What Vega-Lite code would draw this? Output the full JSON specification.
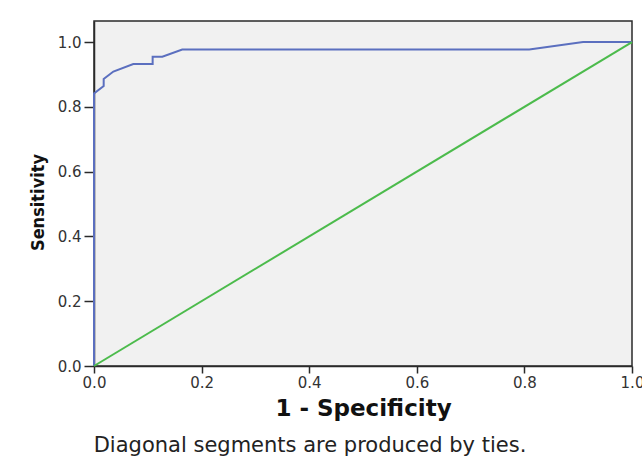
{
  "$schema": "https://vega.github.io/schema/vega-lite/v6.json",
  "width": 538,
  "height": 345,
  "autosize": {"type": "none"},
  "padding": {"left": 94, "top": 21, "right": 10, "bottom": 99},
  "background": "white",
  "title": {
    "text": "Diagonal segments are produced by ties.",
    "orient": "bottom",
    "anchor": "middle",
    "font": "DejaVu Sans",
    "fontSize": 21,
    "fontWeight": "normal",
    "color": "#222",
    "offset": 15,
    "dx": -53
  },
  "data": {
    "values": [
      {"series": "Curve", "i": 0, "fpr": 0.0, "tpr": 0.0},
      {"series": "Curve", "i": 1, "fpr": 0.0, "tpr": 0.841},
      {"series": "Curve", "i": 2, "fpr": 0.018, "tpr": 0.864},
      {"series": "Curve", "i": 3, "fpr": 0.018, "tpr": 0.886},
      {"series": "Curve", "i": 4, "fpr": 0.036, "tpr": 0.909},
      {"series": "Curve", "i": 5, "fpr": 0.073, "tpr": 0.932},
      {"series": "Curve", "i": 6, "fpr": 0.109, "tpr": 0.932},
      {"series": "Curve", "i": 7, "fpr": 0.109, "tpr": 0.955},
      {"series": "Curve", "i": 8, "fpr": 0.127, "tpr": 0.955},
      {"series": "Curve", "i": 9, "fpr": 0.164, "tpr": 0.977},
      {"series": "Curve", "i": 10, "fpr": 0.809, "tpr": 0.977},
      {"series": "Curve", "i": 11, "fpr": 0.909, "tpr": 1.0},
      {"series": "Curve", "i": 12, "fpr": 1.0, "tpr": 1.0},
      {"series": "Reference", "i": 0, "fpr": 0.0, "tpr": 0.0},
      {"series": "Reference", "i": 1, "fpr": 1.0, "tpr": 1.0}
    ]
  },
  "mark": {"type": "line", "strokeWidth": 2, "clip": false},
  "encoding": {
    "x": {
      "field": "fpr",
      "type": "quantitative",
      "scale": {"domain": [0, 1], "nice": false, "zero": false},
      "axis": {
        "title": "1 - Specificity",
        "values": [0, 0.2, 0.4, 0.6, 0.8, 1.0],
        "format": ".1f",
        "grid": false,
        "labelFlush": false,
        "tickSize": 7,
        "labelPadding": 2,
        "titlePadding": 7,
        "titleFontSize": 23
      }
    },
    "y": {
      "field": "tpr",
      "type": "quantitative",
      "scale": {"domain": [0, 1.065], "nice": false, "zero": false},
      "axis": {
        "title": "Sensitivity",
        "values": [0, 0.2, 0.4, 0.6, 0.8, 1.0],
        "format": ".1f",
        "grid": false,
        "labelFlush": false,
        "tickSize": 10,
        "labelPadding": 3,
        "titlePadding": 10,
        "titleY": 181,
        "titleFont": "DejaVu Sans Condensed",
        "titleFontSize": 18
      }
    },
    "color": {
      "field": "series",
      "type": "nominal",
      "scale": {"domain": ["Curve", "Reference"], "range": ["#5b6fbf", "#4cbb4c"]},
      "legend": null
    },
    "order": {"field": "i", "type": "quantitative"}
  },
  "config": {
    "view": {"fill": "#f1f1f1", "stroke": "#2a2a2a", "strokeWidth": 1.5},
    "axis": {
      "domainColor": "#2a2a2a",
      "domainWidth": 1.5,
      "tickColor": "#2a2a2a",
      "tickWidth": 1.5,
      "labelFont": "DejaVu Sans",
      "labelFontSize": 15,
      "labelColor": "#333",
      "titleFont": "DejaVu Sans",
      "titleFontSize": 21,
      "titleFontWeight": "bold",
      "titleColor": "#111"
    }
  }
}
